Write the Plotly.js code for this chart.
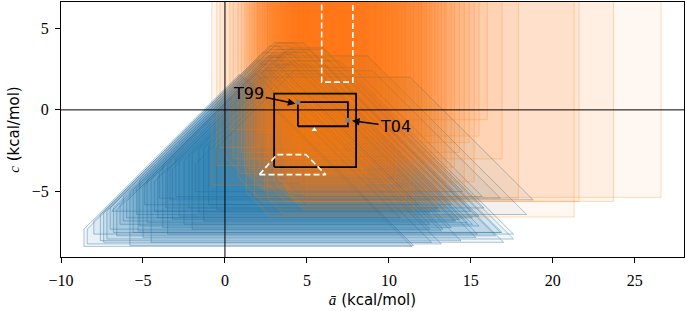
<!DOCTYPE html>
<html>
<head>
<meta charset="utf-8">
<script src="https://cdn.plot.ly/plotly-3.0.1.min.js"></script>
<style>
  body { margin: 0; background: #fff; }
  #plot { width: 685px; height: 311px; }
</style>
</head>
<body>
<div id="plot"></div>
<script>
// orange regions: left edge, right edge, bottom, corner cut (open at top)
const orangeX0 = [-0.8, -0.5, -0.3, 0.0, 0.3, 2.1, 0.8, 1.0, 1.3, 1.5, 1.8, 2.0, 2.2, 2.5, 2.6, 2.8, 3.0, 3.2, 3.4, 3.6, 3.8, 4.0, 4.2, 4.5,
                  2.6, 4.4, 1.7, 2.4, 3.7, 3.3, 0.5, 2.0, 4.8, 1.4, 5.0, 2.9, 4.1, 1.9, 2.7, 3.5, 1.2, 4.3, 3.0, 3.1, 2.3, 3.9, 1.6, 4.6];
const orangeX1 = [8.6, 10.5, 9.2, 12.0, 7.6, 13.2, 11.0, 14.3, 21.3, 9.8, 26.6, 12.5, 14.9, 23.7, 11.5, 15.5, 17.9, 10.0, 16.0, 21.6, 13.0, 16.9, 12.2, 14.0,
                  8.0, 9.5, 10.8, 13.8, 12.8, 15.2, 7.0, 11.0, 12.0, 8.8, 14.6, 9.2, 10.2, 7.8, 12.6, 11.8, 13.5, 9.6, 11.3, 8.4, 10.6, 13.4, 12.3, 10.4];
const orangeY0 = [-4.6, -3.4, -2.3, -3.9, -1.2, -3.8, -5.6, -2.6, -6.55, -4.7, -5.35, -3.2, -2.0, -5.6, -6.4, -1.6, -5.4, -4.1, -0.6, -5.6, -4.9, -3.0, -5.2, -3.5,
                  -2.8, -1.8, -4.3, -5.0, -6.0, -4.4, -3.0, -2.2, -1.5, -3.6, -5.8, -0.8, -4.0, -2.6, -3.3, -2.7, -4.8, -1.9, -5.1, -3.9, -1.4, -6.1, -3.0, -4.5];
const orangeCut = [0, 0, 0, 1.0, 0, 0, 1.5, 0, 1.5, 0.8, 0, 0, 0, 1.2, 1.0, 0, 1.0, 0, 0, 0.8, 0, 0, 0.6, 0,
                   0, 0, 0.5, 0, 1.2, 0, 0, 0, 0, 0, 0, 0, 0.7, 0, 0, 0, 1.0, 0, 1.2, 0, 0, 0.9, 0, 0];

// blue regions: left cut, bottom, left diagonal (c = a + k1), right diagonal (c = -a + k2), top
const blueXL = [-8.6, -8.4, -7.2, -6.8, -6.4, -5.2, -4.75, -6.0, -3.35, -4.0, -3.0, -5.6, -7.0, -2.2, -1.6, -5.0, -4.3, -3.8, -6.2, -2.8,
                -1.0, -7.6, -3.5, -5.4, -2.5, -4.5, -1.8, -6.6, -3.2, -0.5, -8.0, -5.8, -4.9, -2.0, -3.6, -6.9, -1.3, -5.3, -4.1, -7.4];
const blueYB = [-8.35, -8.2, -7.9, -7.5, -7.0, -7.1, -6.9, -6.6, -5.5, -5.4, -5.3, -7.5, -7.3, -6.0, -6.3, -7.8, -6.2, -7.2, -6.8, -6.5,
                -5.8, -8.0, -7.6, -6.4, -7.0, -8.1, -5.0, -7.7, -6.7, -6.1, -7.6, -8.3, -5.8, -7.3, -6.0, -6.2, -6.8, -7.4, -6.6, -8.1];
const blueK1 = [1.3, 1.1, 1.0, 0.8, 0.6, 0.9, 0.5, 0.4, -0.2, 0.2, 0.0, 0.7, 1.0, -0.5, -0.8, 0.3, -0.1, 0.4, 0.9, -0.3,
                -1.2, 1.2, 0.1, 0.6, -0.6, 0.2, -1.5, 0.5, -0.4, -1.8, 1.2, 0.8, 0.3, -0.7, -0.2, 0.7, -1.0, 0.4, 0.0, 1.1];
const blueK2 = [3.05, 5.0, 9.7, 9.3, 8.1, 8.4, 7.9, 4.1, 13.3, 11.4, 10.4, 9.4, 5.2, 7.0, 6.2, 7.5, 8.8, 6.6, 7.2, 9.0,
                8.0, 6.4, 10.0, 12.0, 5.5, 4.5, 9.5, 8.8, 7.6, 6.8, 7.8, 3.2, 6.0, 6.0, 9.8, 6.9, 7.3, 5.8, 8.5, 8.9];
const blueYT = [4.1, 4.1, 3.7, 3.2, 3.5, 4.1, 2.8, 4.0, 2.0, 2.4, 2.6, 3.0, 4.0, 2.8, 3.0, 3.4, 3.6, 3.2, 3.9, 2.7,
                2.4, 3.5, 3.0, 3.3, 3.0, 3.0, 2.2, 3.7, 3.4, 2.6, 3.9, 4.0, 3.1, 3.3, 3.8, 3.3, 2.9, 4.0, 3.5, 4.1];

// boxes and markers
const bigBoxX = [3.0, 8.0];
const bigBoxY = [-3.5, 1.0];
const smallBoxX = [4.45, 7.5];
const smallBoxY = [-1.0, 0.47];
const t99 = [4.45, 0.47];
const t04 = [7.5, -0.63];
const dashRectX = [5.9, 5.9, 7.8, 7.8];
const dashRectY = [7.0, 1.7, 1.7, 7.0];
const dashTrapX = [2.1, 3.17, 4.94, 6.15, 2.1];
const dashTrapY = [-3.96, -2.74, -2.74, -3.96, -3.96];
const tinyMark = [5.45, -1.22];

const TOP = 7.5;
const traces = [];

function bluePolygon(i) {
    const xL = blueXL[i], yb = blueYB[i], k1 = blueK1[i], k2 = blueK2[i], yt = blueYT[i];
    const xs = [], ys = [];
    if (xL + k1 > yb) { xs.push(xL, xL); ys.push(yb, xL + k1); }
    else { xs.push(yb - k1); ys.push(yb); }
    const tl = yt - k1, tr = k2 - yt;
    if (tl < tr) { xs.push(tl, tr); ys.push(yt, yt); }
    else { xs.push((k2 - k1) / 2); ys.push((k2 + k1) / 2); }
    xs.push(k2 - yb); ys.push(yb);
    xs.push(xs[0]); ys.push(ys[0]);
    return { xs, ys };
}

// blue regions first, orange drawn over them
for (let i = 0; i < blueXL.length; i++) {
    const p = bluePolygon(i);
    traces.push({
        x: p.xs, y: p.ys, mode: 'lines', fill: 'toself',
        fillcolor: 'rgba(31,119,180,0.055)',
        line: { color: 'rgba(31,119,180,0.35)', width: 0.8 },
        hoverinfo: 'skip', showlegend: false
    });
}

for (let i = 0; i < orangeX0.length; i++) {
    const x0 = orangeX0[i], x1 = orangeX1[i], y0 = orangeY0[i], cut = orangeCut[i];
    let xs, ys;
    if (cut > 0) {
        xs = [x0, x0, x0 + cut, x1, x1, x0];
        ys = [TOP, y0 + cut, y0, y0, TOP, TOP];
    } else {
        xs = [x0, x0, x1, x1, x0];
        ys = [TOP, y0, y0, TOP, TOP];
    }
    traces.push({
        x: xs, y: ys, mode: 'lines', fill: 'toself',
        fillcolor: 'rgba(255,127,14,0.06)',
        line: { color: 'rgba(255,127,14,0.35)', width: 0.8 },
        hoverinfo: 'skip', showlegend: false
    });
}

// faint blue edges again so they show through the orange
for (let i = 0; i < blueXL.length; i++) {
    const p = bluePolygon(i);
    traces.push({
        x: p.xs, y: p.ys, mode: 'lines',
        line: { color: 'rgba(60,90,120,0.18)', width: 0.8 },
        hoverinfo: 'skip', showlegend: false
    });
}

function boxTrace(bx, by, color, width) {
    return {
        x: [bx[0], bx[1], bx[1], bx[0], bx[0]],
        y: [by[0], by[0], by[1], by[1], by[0]],
        mode: 'lines', line: { color: color, width: width },
        hoverinfo: 'skip', showlegend: false
    };
}
traces.push(boxTrace(bigBoxX, bigBoxY, 'black', 1.8));
traces.push(boxTrace(smallBoxX, smallBoxY, 'black', 1.8));
traces.push({
    x: dashRectX, y: dashRectY, mode: 'lines',
    line: { color: 'white', width: 1.6, dash: '6px,3px' }, hoverinfo: 'skip', showlegend: false
});
traces.push({
    x: dashTrapX, y: dashTrapY, mode: 'lines',
    line: { color: 'white', width: 1.6, dash: '6px,3px' }, hoverinfo: 'skip', showlegend: false
});
traces.push({
    x: [t99[0], t04[0]], y: [t99[1], t04[1]], mode: 'markers',
    marker: { color: '#808080', size: 5 }, hoverinfo: 'skip', showlegend: false
});
traces.push({
    x: [tinyMark[0]], y: [tinyMark[1]], mode: 'markers',
    marker: { color: 'white', size: 5, symbol: 'triangle-up' }, hoverinfo: 'skip', showlegend: false
});

const serif = 'Liberation Serif, DejaVu Serif, serif';
const sans = 'DejaVu Sans, sans-serif';

const layout = {
    width: 685, height: 311,
    margin: { l: 61, r: 1, t: 2, b: 54 },
    paper_bgcolor: 'white', plot_bgcolor: 'white',
    xaxis: {
        range: [-10, 28], tickvals: [-10, -5, 0, 5, 10, 15, 20, 25],
        ticks: 'outside', ticklen: 5, tickcolor: 'black', ticklabelstandoff: 4,
        showline: true, mirror: true, linecolor: 'black', linewidth: 1,
        showgrid: false, zeroline: false,
        tickfont: { family: serif, size: 16, color: 'black' },
        title: { text: "<span style='font-family:Liberation Serif'><i>ā</i></span> (kcal/mol)", font: { family: sans, size: 15, color: 'black' }, standoff: 6 }
    },
    yaxis: {
        range: [-9, 6.6], tickvals: [-5, 0, 5],
        ticks: 'outside', ticklen: 5, tickcolor: 'black', ticklabelstandoff: 3,
        showline: true, mirror: true, linecolor: 'black', linewidth: 1,
        showgrid: false, zeroline: false,
        tickfont: { family: serif, size: 16, color: 'black' },
        title: { text: "<span style='font-family:Liberation Serif'><i>c</i></span> (kcal/mol)", font: { family: sans, size: 15, color: 'black' }, standoff: 8 }
    },
    shapes: [
        { type: 'line', xref: 'paper', yref: 'y', x0: 0, x1: 1, y0: 0, y1: 0, line: { color: 'black', width: 1 }, layer: 'above' },
        { type: 'line', xref: 'x', yref: 'paper', x0: 0, x1: 0, y0: 0, y1: 1, line: { color: 'black', width: 1 }, layer: 'above' }
    ],
    annotations: [
        { x: 4.3, y: 0.38, ax: 1.46, ay: 0.98, axref: 'x', ayref: 'y', xref: 'x', yref: 'y',
          text: 'T99', showarrow: true, arrowhead: 2, arrowsize: 1, arrowwidth: 1.5, arrowcolor: 'black',
          font: { family: sans, size: 16, color: 'black' } },
        { x: 7.75, y: -0.66, ax: 10.4, ay: -1.03, axref: 'x', ayref: 'y', xref: 'x', yref: 'y',
          text: 'T04', showarrow: true, arrowhead: 2, arrowsize: 1, arrowwidth: 1.5, arrowcolor: 'black',
          font: { family: sans, size: 16, color: 'black' } }
    ]
};

Plotly.newPlot('plot', traces, layout, { displayModeBar: false, staticPlot: true });
</script>
</body>
</html>
